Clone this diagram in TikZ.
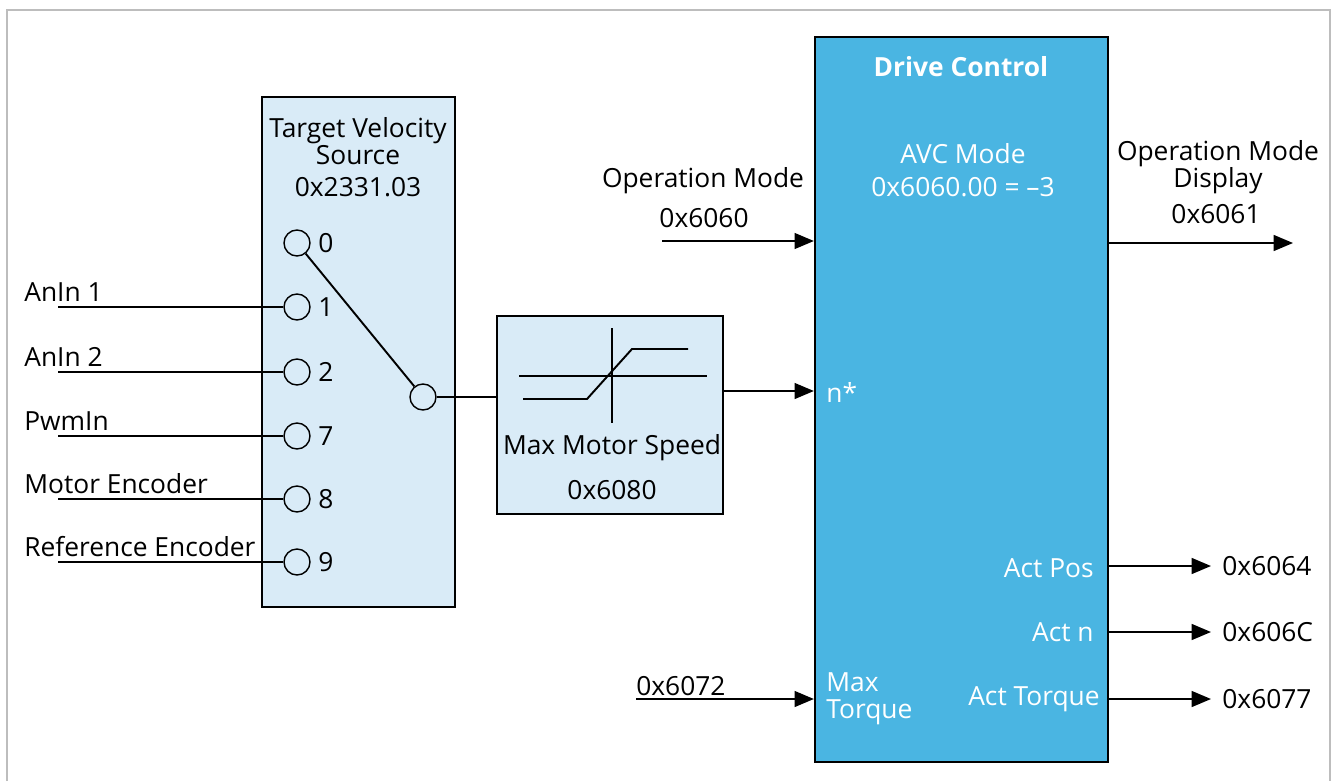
\documentclass[tikz,border=0pt]{standalone}
\usepackage{fontspec}
\setmainfont{Open Sans}
\usetikzlibrary{arrows.meta}
\definecolor{paleblue}{HTML}{D9EBF7}
\definecolor{driveblue}{HTML}{4AB5E2}
\definecolor{framegray}{HTML}{BDBDBD}
\begin{document}
\begin{tikzpicture}[x=0.02cm,y=-0.02cm,
    font=\fontsize{15}{15.5}\selectfont,
    block/.style={draw=black,line width=1.3pt,inner sep=0pt},
    port/.style={draw=black,line width=0.8pt,circle,minimum size=0.52cm,inner sep=0pt},
    wire/.style={line width=1.1pt},
    sig/.style={line width=1.1pt,-{Triangle[length=11pt,width=9pt]}},
    txt/.style={inner sep=0pt,align=center}]
    \useasboundingbox (0,0) rectangle (1335,781);
    % Rahmen
    \draw[framegray,line width=1pt] (7,781) -- (7,10) -- (1330,10) -- (1330,781);

    % Target Velocity Source
    \node[block,fill=paleblue,minimum width=3.86cm,minimum height=10.2cm] (tvs) at (358.5,352) {};
    \node[txt] (tvstitle) at (358,141) {Target Velocity\\Source};
    \node[txt] (tvsidx) at (358,187) {0x2331.03};
    \node[port] (p0) at (297,243) {};
    \node[anchor=west,inner sep=0pt] at (318,243) {0};
    \node[port] (sw) at (423,397) {};
    \draw[wire] (p0) -- (sw);
    \foreach \y/\num/\name in {307/1/AnIn 1,372/2/AnIn 2,436/7/PwmIn,499/8/Motor Encoder,562/9/Reference Encoder}{
        \node[port] (p\num) at (297,\y) {};
        \node[anchor=west,inner sep=0pt] at (318,\y) {\num};
        \coordinate (in\num) at (58,\y);
        \node[anchor=south west,inner sep=0pt] at (24,\y-5) {\name};
        \draw[wire] (in\num) -- (p\num);
    }

    % Max Motor Speed
    \node[block,fill=paleblue,minimum width=4.52cm,minimum height=3.96cm] (mms) at (610,415) {};
    \draw[wire] (519,376) -- (707,376);
    \draw[wire] (612,328) -- (612,423);
    \draw[wire] (523,399) -- (587,399) -- (632,349) -- (688,349);
    \node[txt] (mmstitle) at (612,448) {Max Motor Speed};
    \node[txt] (mmsidx) at (612,490) {0x6080};
    \draw[wire] (sw) -- (sw -| mms.west);

    % Drive Control
    \node[block,fill=driveblue,minimum width=5.86cm,minimum height=14.5cm] (dc) at (961.5,399.5) {};
    \begin{scope}[white]
        \node[txt,font=\fontsize{15}{15.5}\selectfont\bfseries] at (961,67) {Drive Control};
        \node[txt] at (963,170) {AVC Mode\\[3pt]0x6060.00 = –3};
        \node[anchor=west,inner sep=0pt] (nstar) at (826,392) {n*};
        \node[anchor=west,txt,align=left] (maxtq) at (826,699) {Max\\Torque};
        \node[anchor=east,inner sep=0pt] (actpos) at (1094,568) {Act Pos};
        \node[anchor=east,inner sep=0pt] (actn) at (1094,632) {Act n};
        \node[anchor=east,inner sep=0pt] (acttq) at (1100,699) {Act Torque};
    \end{scope}

    % Eingaenge
    \draw[sig] (mms.east |- 0,391) -- (dc.west |- 0,391);
    \coordinate (opin) at (662,241);
    \node[txt] (oplabel) at (703,181) {Operation Mode};
    \node[txt] (opidx) at (704,218) {0x6060};
    \draw[sig] (opin) -- (dc.west |- opin);
    \coordinate (tqin) at (636,699);
    \node[anchor=south west,inner sep=0pt] (tqidx) at (636,696) {0x6072};
    \draw[sig] (tqin) -- (dc.west |- tqin);

    % Ausgaenge
    \coordinate (opout) at (1293,243);
    \node[txt] (dsplabel) at (1218,167) {Operation Mode\\Display};
    \node[txt] (dspidx) at (1216,214) {0x6061};
    \draw[sig] (dc.east |- opout) -- (opout);
    \foreach \y/\idx/\src in {566/0x6064/actpos,632/0x606C/actn,699/0x6077/acttq}{
        \node[anchor=west,inner sep=0pt] (o\src) at (1222,\y) {\idx};
        \coordinate (e\src) at (1211,\y);
        \draw[sig] (dc.east |- 0,\y) -- (e\src);
    }
\end{tikzpicture}
\end{document}
